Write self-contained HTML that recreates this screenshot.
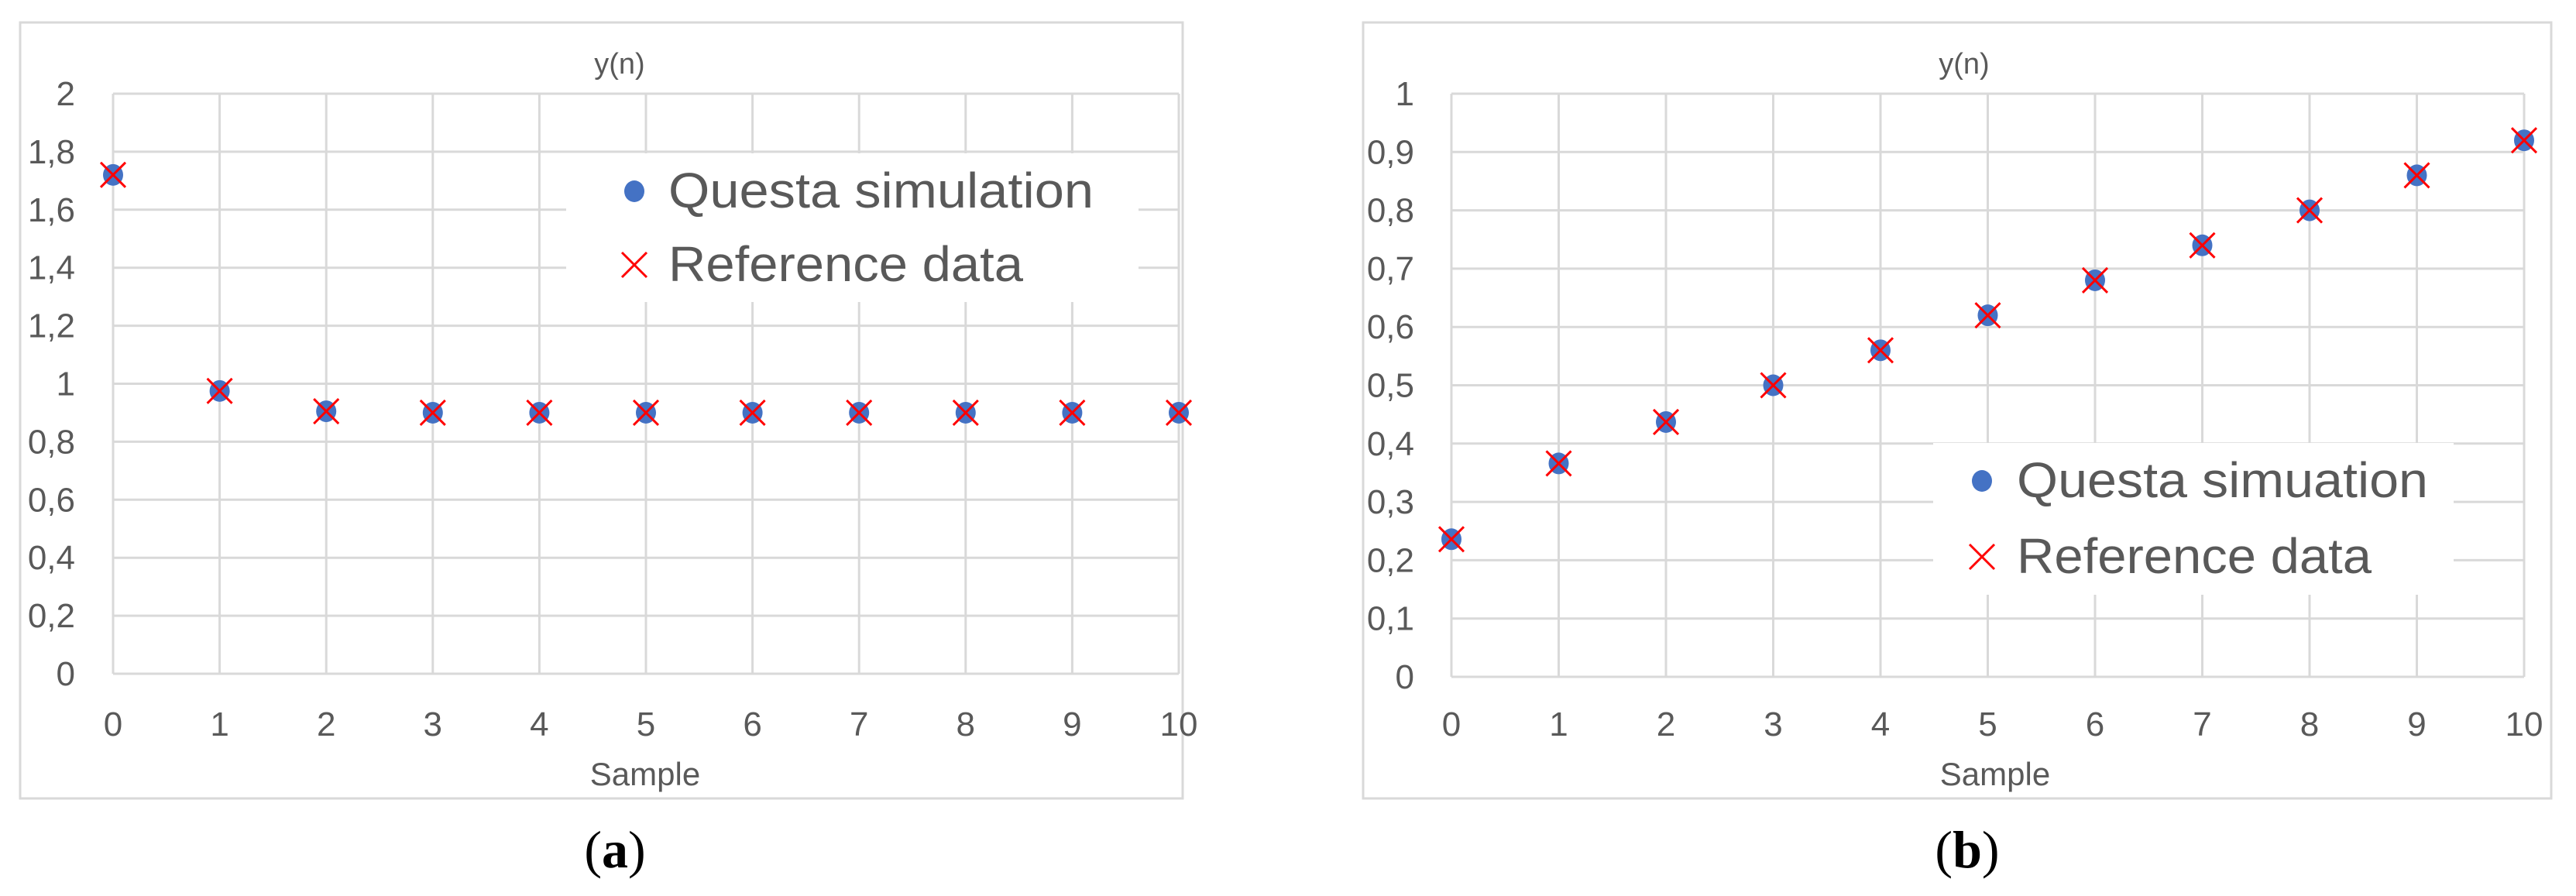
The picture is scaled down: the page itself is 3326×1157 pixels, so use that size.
<!DOCTYPE html>
<html><head><meta charset="utf-8"><style>
html,body{margin:0;padding:0;background:#fff;}
svg{display:block;}
text{font-family:"Liberation Sans",sans-serif;}
</style></head><body>
<svg id="root" width="3326" height="1157" viewBox="0 0 3326 1157" xmlns="http://www.w3.org/2000/svg"></svg>
<script>
const xCategories = [0,1,2,3,4,5,6,7,8,9,10];
const seriesA_questa = [1.72,0.975,0.905,0.9,0.9,0.9,0.9,0.9,0.9,0.9,0.9];
const seriesA_reference = [1.72,0.975,0.905,0.9,0.9,0.9,0.9,0.9,0.9,0.9,0.9];
const yTicksA = [0,0.2,0.4,0.6,0.8,1,1.2,1.4,1.6,1.8,2];
const yTickLabelsA = ["0","0,2","0,4","0,6","0,8","1","1,2","1,4","1,6","1,8","2"];
const seriesB_questa = [0.236,0.366,0.437,0.5,0.56,0.62,0.68,0.74,0.8,0.86,0.92];
const seriesB_reference = [0.236,0.366,0.437,0.5,0.56,0.62,0.68,0.74,0.8,0.86,0.92];
const yTicksB = [0,0.1,0.2,0.3,0.4,0.5,0.6,0.7,0.8,0.9,1];
const yTickLabelsB = ["0","0,1","0,2","0,3","0,4","0,5","0,6","0,7","0,8","0,9","1"];
const legendA = ["Questa simulation","Reference data"];
const legendB = ["Questa simuation","Reference data"];

const NS="http://www.w3.org/2000/svg";
const root=document.getElementById('root');
function mk(tag,attrs,parent,txt){const e=document.createElementNS(NS,tag);for(const k in attrs)e.setAttribute(k,attrs[k]);if(txt!==undefined)e.textContent=txt;(parent||root).appendChild(e);return e;}

function chart(o){
  const g=mk('g',{});
  
  
  const fr=mk('rect',{x:o.fx,y:29,width:o.fw,height:1002,fill:'#fff',stroke:'#d9d9d9','stroke-width':3},g);
  
  
  const L=o.pl,R=o.pr,T=121,B=o.pb;
  const ymax=o.yt[o.yt.length-1];
  const xs=v=>L+(v-xCategories[0])/(xCategories[xCategories.length-1]-xCategories[0])*(R-L);
  const ys=v=>B-v/ymax*(B-T);
  o.yt.forEach((v,i)=>{
    const l=mk('line',{x1:L,x2:R,y1:ys(v),y2:ys(v),stroke:'#d9d9d9','stroke-width':3},g);
    
    
    const t=mk('text',{x:o.ylx,y:ys(v)+15,'text-anchor':'end','font-size':44,fill:'#595959'},g,o.yl[i]);
    
    
  });
  xCategories.forEach(c=>{
    const l=mk('line',{x1:xs(c),x2:xs(c),y1:T,y2:B,stroke:'#d9d9d9','stroke-width':3},g);
    
    
    const t=mk('text',{x:xs(c),y:950,'text-anchor':'middle','font-size':44,fill:'#595959'},g,String(c));
    
    
  });
  const tt=mk('text',{x:o.tx,y:95,'text-anchor':'middle','font-size':38,fill:'#595959'},g,'y(n)');
  
  
  const xt=mk('text',{x:o.sx,y:1014,'text-anchor':'middle','font-size':42,fill:'#595959'},g,'Sample');
  
  
  const lg=mk('g',{},g);
  
  
  mk('rect',{x:o.lx0,y:o.ly0,width:o.lx1-o.lx0,height:o.ly1-o.ly0,fill:'#fff'},lg);
  o.q.forEach((v,i)=>{
    const c=mk('ellipse',{cx:xs(xCategories[i]),cy:ys(v),rx:13,ry:14,fill:'#4472c4'},g);
    
    
  });
  o.r.forEach((v,i)=>{
    const x=xs(xCategories[i]),y=ys(v),s=16;
    const p=mk('path',{d:`M${x-s},${y-s}L${x+s},${y+s}M${x-s},${y+s}L${x+s},${y-s}`,stroke:'#ff0000','stroke-width':3,fill:'none'},g);
    
    
  });
  g.appendChild(lg);
  const e1=mk('g',{},lg);
  
  
  mk('ellipse',{cx:o.dx,cy:o.b1-21,rx:13,ry:14,fill:'#4472c4'},e1);
  mk('text',{x:o.tx0,y:o.b1,'font-size':64,fill:'#595959',textLength:o.w1,lengthAdjust:'spacingAndGlyphs'},e1,o.lt[0]);
  const e2=mk('g',{},lg);
  
  
  const cy=o.b2-21,s=16,x=o.dx;
  mk('path',{d:`M${x-s},${cy-s}L${x+s},${cy+s}M${x-s},${cy+s}L${x+s},${cy-s}`,stroke:'#ff0000','stroke-width':3,fill:'none'},e2);
  mk('text',{x:o.tx0,y:o.b2,'font-size':64,fill:'#595959',textLength:o.w2,lengthAdjust:'spacingAndGlyphs'},e2,o.lt[1]);
  const cap=mk('text',{x:o.cx,y:1120,'text-anchor':'middle','font-size':68,fill:'#000',style:'font-family:"Liberation Serif",serif'},null);
  
  
  mk('tspan',{},cap,'(');
  mk('tspan',{'font-weight':'bold'},cap,o.cap);
  mk('tspan',{},cap,')');
}

chart({name:'chart-a',fx:26,fw:1501,pl:146,pr:1522,pb:870,yt:yTicksA,yl:yTickLabelsA,ylx:97,tx:800,sx:833,
  q:seriesA_questa,r:seriesA_reference,lx0:731,lx1:1470,ly0:198,ly1:390,dx:819,tx0:863,b1:268,b2:363,w1:549,w2:458,lt:legendA,
  cx:794,cap:'a',capName:'caption-a'});
chart({name:'chart-b',fx:1760,fw:1534,pl:1874,pr:3259,pb:874,yt:yTicksB,yl:yTickLabelsB,ylx:1826,tx:2536,sx:2576,
  q:seriesB_questa,r:seriesB_reference,lx0:2496,lx1:3168,ly0:572,ly1:768,dx:2559,tx0:2604,b1:642,b2:740,w1:531,w2:458,lt:legendB,
  cx:2540,cap:'b',capName:'caption-b'});
</script>
</body></html>
